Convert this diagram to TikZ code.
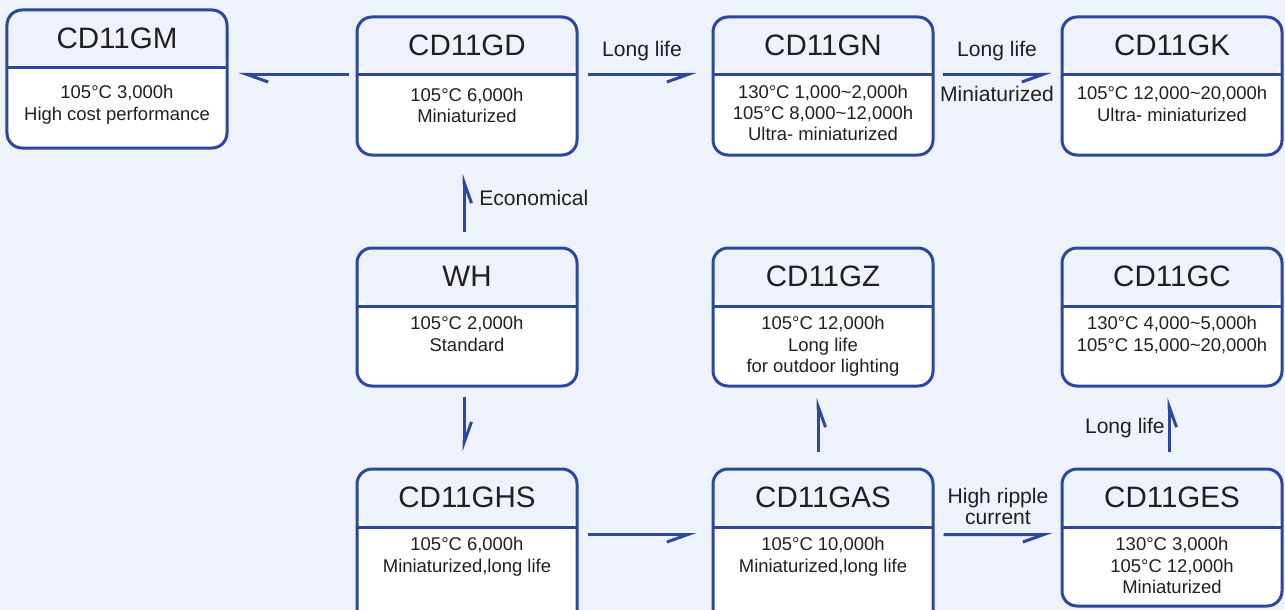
\documentclass[tikz,border=0pt]{standalone}
\usepackage{fontspec}
\setmainfont{Liberation Sans}
\usetikzlibrary{arrows.meta,positioning,calc}
\definecolor{lineblue}{RGB}{44,71,156}
\definecolor{bgblue}{RGB}{238,243,251}
\definecolor{txt}{RGB}{35,31,32}
\newcommand{\tld}{\textasciitilde}

\tikzset{
  box/.style={draw=lineblue, line width=0.6mm, rounded corners=3mm, fill=white,
    minimum width=44mm, minimum height=27.6mm, inner sep=0pt,
    path picture={
      \fill[bgblue] (path picture bounding box.north west) rectangle ([yshift=-11.6mm]path picture bounding box.north east);
      \draw[lineblue, line width=0.6mm] ([yshift=-11.6mm]path picture bounding box.north west) -- ([yshift=-11.6mm]path picture bounding box.north east);
    }},
  boxtitle/.style={text=txt, font=\fontsize{16.8}{19}\selectfont, inner sep=0pt},
  boxtext/.style={text=txt, font=\fontsize{10.5}{12}\selectfont, align=center, inner sep=1pt, anchor=north},
  lbl/.style={text=txt, font=\fontsize{12}{11.5}\selectfont, align=center, inner sep=1pt},
  harpR/.style={lineblue, line width=0.6mm, -{Straight Barb[right, length=4.2mm, width=3mm]}},
  harpL/.style={lineblue, line width=0.6mm, -{Straight Barb[left, length=4.2mm, width=3mm]}}
}

\begin{document}
\begin{tikzpicture}[x=0.2mm, y=-0.2mm]

\fill[bgblue] (0,0) rectangle (1285,610);
\useasboundingbox (0,0) rectangle (1285,610);

% rangee du haut
\node[box] (gm) at (117,79) {};
\node[boxtitle] (gm-t) at ([yshift=-6mm]gm.north) {CD11GM};
\node[boxtext] (gm-b) at ([yshift=-15mm]gm.north) {105°C 3,000h\\High cost performance};

\node[box] (gd) at (467,86) {};
\node[boxtitle] (gd-t) at ([yshift=-6mm]gd.north) {CD11GD};
\node[boxtext] (gd-b) at ([yshift=-14.1mm]gd.north) {105°C 6,000h\\Miniaturized};

\node[box] (gn) at (823,86) {};
\node[boxtitle] (gn-t) at ([yshift=-6mm]gn.north) {CD11GN};
\node[boxtext] (gn-b) at ([yshift=-13.5mm]gn.north) {130°C 1,000\tld2,000h\\105°C 8,000\tld12,000h\\Ultra- miniaturized};

\node[box] (gk) at (1172,86) {};
\node[boxtitle] (gk-t) at ([yshift=-6mm]gk.north) {CD11GK};
\node[boxtext] (gk-b) at ([yshift=-13.8mm]gk.north) {105°C 12,000\tld20,000h\\Ultra- miniaturized};

% rangee du milieu
\node[box] (wh) at (467,317) {};
\node[boxtitle] (wh-t) at ([yshift=-6mm]wh.north) {WH};
\node[boxtext] (wh-b) at ([yshift=-13.6mm]wh.north) {105°C 2,000h\\Standard};

\node[box] (gz) at (823,317) {};
\node[boxtitle] (gz-t) at ([yshift=-6mm]gz.north) {CD11GZ};
\node[boxtext] (gz-b) at ([yshift=-13.6mm]gz.north) {105°C 12,000h\\Long life\\for outdoor lighting};

\node[box] (gc) at (1172,317) {};
\node[boxtitle] (gc-t) at ([yshift=-6mm]gc.north) {CD11GC};
\node[boxtext] (gc-b) at ([yshift=-13.6mm]gc.north) {130°C 4,000\tld5,000h\\105°C 15,000\tld20,000h};

% rangee du bas
\node[box, minimum height=32mm] (ghs) at (467,549) {};
\node[boxtitle] (ghs-t) at ([yshift=-6mm]ghs.north) {CD11GHS};
\node[boxtext] (ghs-b) at ([yshift=-13.6mm]ghs.north) {105°C 6,000h\\Miniaturized,long life};

\node[box, minimum height=32mm] (gas) at (823,549) {};
\node[boxtitle] (gas-t) at ([yshift=-6mm]gas.north) {CD11GAS};
\node[boxtext] (gas-b) at ([yshift=-13.6mm]gas.north) {105°C 10,000h\\Miniaturized,long life};

\node[box, minimum height=27.4mm] (ges) at (1172,537.5) {};
\node[boxtitle] (ges-t) at ([yshift=-6mm]ges.north) {CD11GES};
\node[boxtext] (ges-b) at ([yshift=-13.6mm]ges.north) {130°C 3,000h\\105°C 12,000h\\Miniaturized};

% fleches
\draw[harpL] ([shift={(-7,59)}]gd.north west) -- ([shift={(10,66)}]gm.north east);
\draw[harpR] ([shift={(9,59)}]gd.north east) -- node[lbl, above=2mm] (l-gn) {Long life} ([shift={(-15,59)}]gn.north west);
\draw[harpR] ([shift={(8,59)}]gn.north east) -- node[lbl, above=2mm] (l-gk1) {Long life}
  node[lbl, below=1.7mm] (l-gk2) {Miniaturized} ([shift={(-9,59)}]gk.north west);
\draw[harpR] ([shift={(-3,-15)}]wh.north) -- node[lbl, right=2.4mm, pos=0.58] (l-gd) {Economical} ([shift={(-3,17)}]gd.south);
\draw[harpL] ([shift={(-3,9)}]wh.south) -- ([shift={(-3,-16)}]ghs.north);
\draw[harpR] ([shift={(9,67)}]ghs.north east) -- ([shift={(-15,67)}]gas.north west);
\draw[harpR] ([shift={(-5,-16)}]gas.north) -- ([shift={(-5,10)}]gz.south);
\draw[harpR] ([shift={(9,67)}]gas.north east) -- node[lbl, above=1.4mm] (l-ges) {High ripple\\current} ([shift={(-8,67)}]ges.north west);
\draw[harpR] ([shift={(-3,-16)}]ges.north) -- node[lbl, left=0.2mm, pos=0.44] (l-gc) {Long life} ([shift={(-3,10)}]gc.south);

\end{tikzpicture}
\end{document}
